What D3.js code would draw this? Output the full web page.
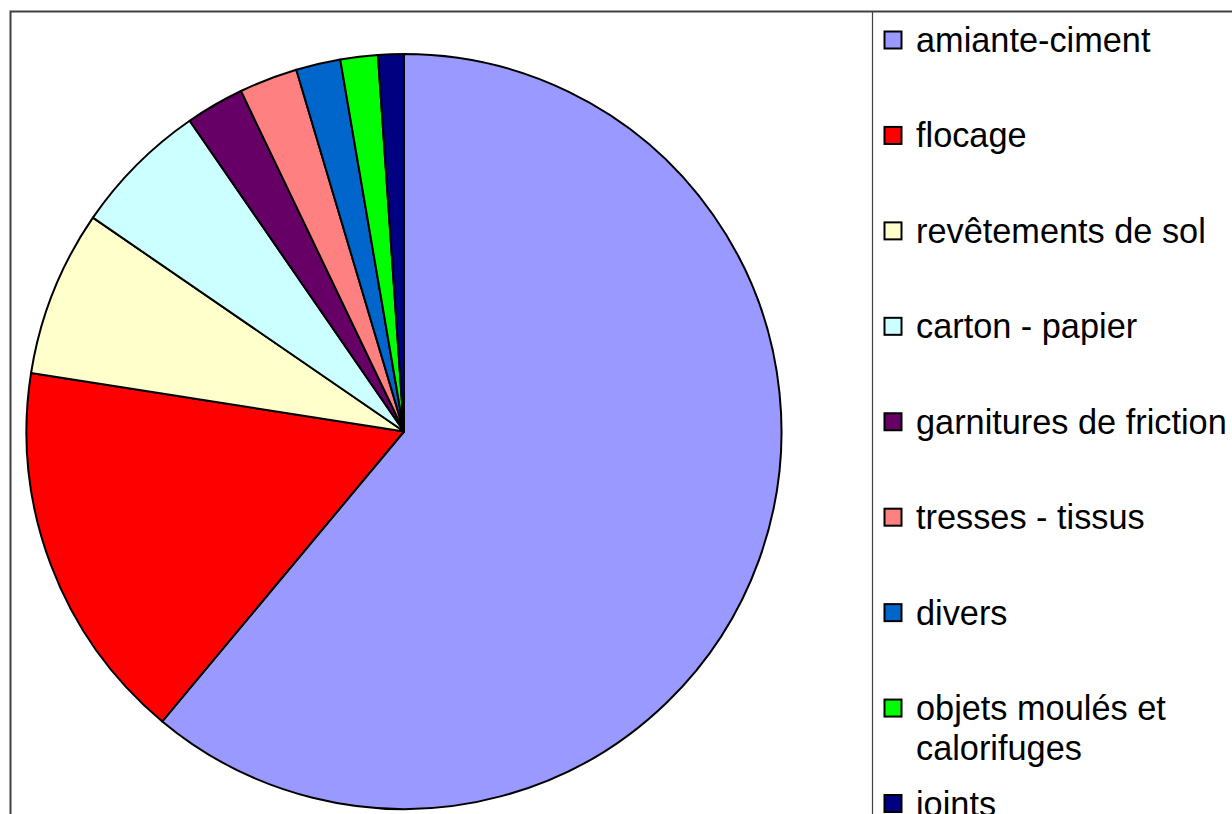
<!DOCTYPE html>
<html lang="fr">
<head>
<meta charset="UTF-8" />
<title>Pie chart</title>
<style>
  body { margin: 0; background: #fff; }
  svg { display: block; }
  text { font-family: "Liberation Sans", Arial, sans-serif; fill: #000; }
</style>
<script src="https://d3js.org/d3.v7.min.js"></script>
</head>
<body>
<div id="chart"></div>
<script>
const categories = [
  "amiante-ciment", "flocage", "revêtements de sol", "carton - papier",
  "garnitures de friction", "tresses - tissus", "divers",
  "objets moulés et|calorifuges", "joints"
];
const values = [61.0, 16.4, 7.1, 5.8, 2.5, 2.5, 1.9, 1.6, 1.1];
const colors = [
  "#9999ff", "#ff0000", "#ffffcc", "#ccffff", "#660066",
  "#ff8080", "#0066cc", "#00ff00", "#000080"
];

const width = 1232, height = 814;
const svg = d3.select("#chart").append("svg")
  .attr("width", width).attr("height", height);

// frame (runs off the right and bottom edges)
svg.append("rect")
  .attr("x", 10.5).attr("y", 11.5)
  .attr("width", 1300).attr("height", 900)
  .attr("fill", "none").attr("stroke", "#404040").attr("stroke-width", 2);
svg.append("line")
  .attr("x1", 872.5).attr("x2", 872.5).attr("y1", 12).attr("y2", height)
  .attr("stroke", "#404040").attr("stroke-width", 1.2);

// pie
const cx = 404, cy = 431.5, r = 377.5;
const pie = d3.pie().sort(null).value(d => d)(values);
const arc = d3.arc().innerRadius(0).outerRadius(r);
svg.append("g")
  .attr("transform", `translate(${cx},${cy})`)
  .selectAll("path")
  .data(pie)
  .join("path")
  .attr("d", arc)
  .attr("fill", (d, i) => colors[i])
  .attr("stroke", "#000")
  .attr("stroke-width", 2)
  .attr("stroke-linejoin", "round");

// legend
const legendY = d3.scaleLinear().domain([0, 8]).range([40, 803.5]);
const legend = svg.append("g").selectAll("g")
  .data(categories)
  .join("g")
  .attr("transform", (d, i) => `translate(884,${legendY(i)})`);

legend.append("rect")
  .attr("x", 0.5).attr("y", -8.5)
  .attr("width", 17).attr("height", 17)
  .attr("fill", (d, i) => colors[i])
  .attr("stroke", "#000").attr("stroke-width", 2);

legend.append("text")
  .attr("x", 32).attr("y", 12)
  .attr("font-size", "34.3px")
  .selectAll("tspan")
  .data(d => d.split("|"))
  .join("tspan")
  .attr("x", 32)
  .attr("dy", (d, i) => i === 0 ? 0 : 40)
  .text(d => d);
</script>
</body>
</html>
